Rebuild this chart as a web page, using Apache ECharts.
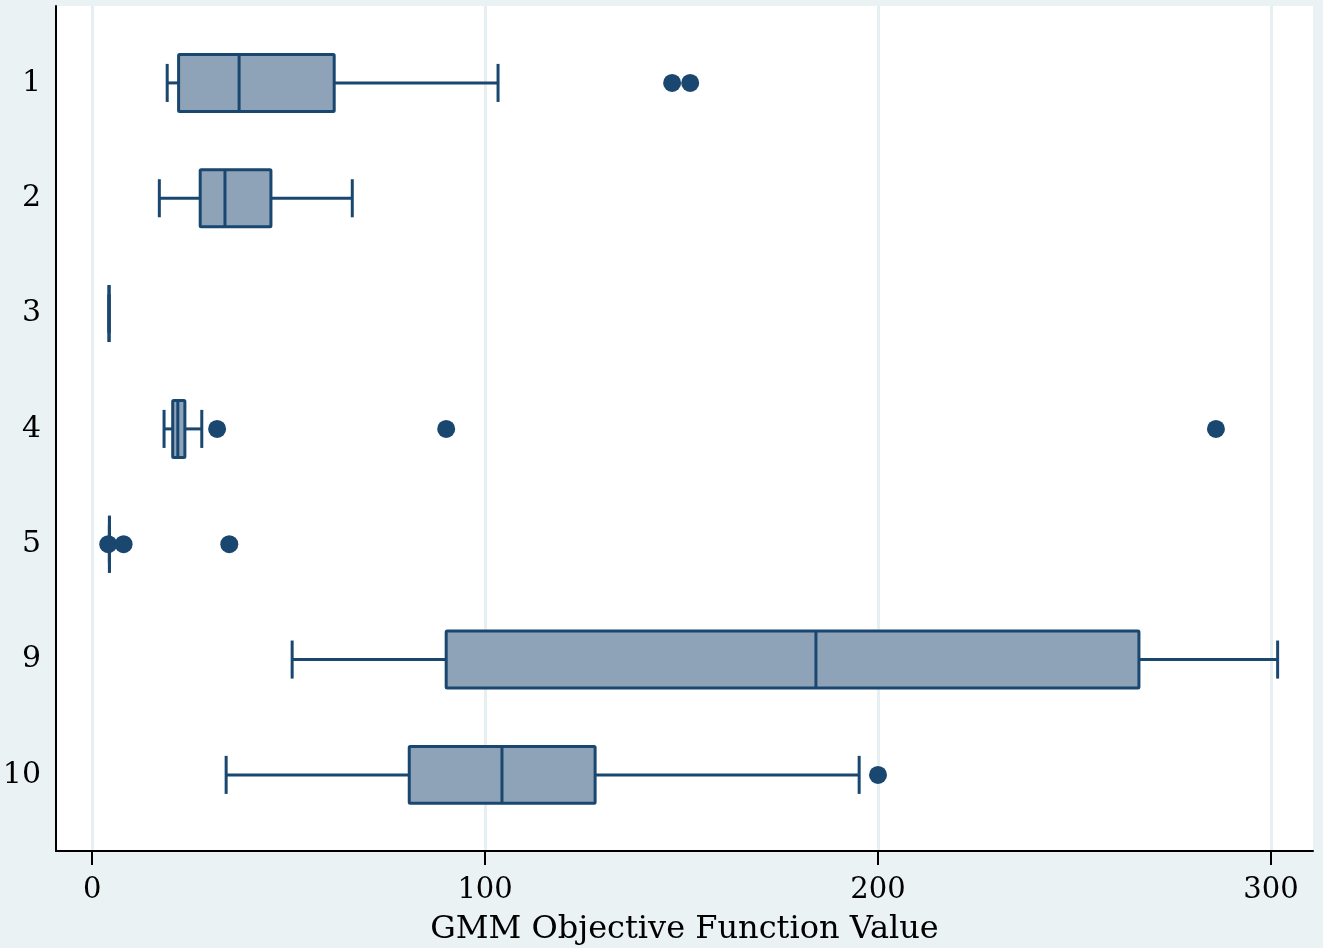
<!DOCTYPE html>
<html>
<head>
<meta charset="utf-8">
<script src="https://cdn.jsdelivr.net/npm/echarts@6/dist/echarts.min.js"></script>
<style>
html,body{margin:0;padding:0;background:#eaf2f3;}
#chart{width:1323px;height:948px;}
</style>
</head>
<body>
<div id="chart"></div>
<script>
// Group labels (top to bottom)
const categories = ['1', '2', '3', '4', '5', '9', '10'];
// Box statistics per group: [lower whisker, Q1, median, Q3, upper whisker]
const boxStats = [
  [19.1, 22.0, 37.4, 61.6, 103.3],
  [17.1, 27.5, 33.8, 45.5, 66.2],
  [4.3, 4.3, 4.3, 4.3, 4.3],
  [18.3, 20.5, 21.8, 23.6, 27.9],
  [4.4, 4.4, 4.4, 4.4, 4.4],
  [50.9, 90.1, 184.2, 266.4, 301.7],
  [34.1, 80.7, 104.3, 128.0, 195.2]
];
// Outliers: [group label, value]
const outliers = [
  ['1', 147.6], ['1', 152.2],
  ['4', 31.8], ['4', 90.1], ['4', 286.0],
  ['5', 4.1], ['5', 8.0], ['5', 34.9],
  ['10', 200.0]
];
const xTicks = [0, 100, 200, 300];
const axisTitle = 'GMM Objective Function Value';

const NAVY = '#1a476f';
const FILL = '#8fa3b8';
const FONT = 'DejaVu Serif';

const boxData = boxStats.map((s, i) => [i + 1].concat(s));
const outData = outliers.map(o => [o[1], categories.indexOf(o[0]) + 1]);

function renderBox(params, api) {
  const pos = api.value(0);
  const lo = api.value(1), q1 = api.value(2), med = api.value(3), q3 = api.value(4), hi = api.value(5);
  const unit = api.size([0, 1])[1];
  const bh = unit * 0.247;
  const ch = unit * 0.165;
  const pLo = api.coord([lo, pos]);
  const pQ1 = api.coord([q1, pos]);
  const pMed = api.coord([med, pos]);
  const pQ3 = api.coord([q3, pos]);
  const pHi = api.coord([hi, pos]);
  const y = pMed[1];
  const ls = {stroke: NAVY, lineWidth: 3, fill: null};
  const children = [];
  children.push({type: 'line', shape: {x1: pLo[0], y1: y, x2: pQ1[0], y2: y}, style: ls});
  children.push({type: 'line', shape: {x1: pQ3[0], y1: y, x2: pHi[0], y2: y}, style: ls});
  children.push({type: 'line', shape: {x1: pLo[0], y1: y - ch, x2: pLo[0], y2: y + ch}, style: ls});
  children.push({type: 'line', shape: {x1: pHi[0], y1: y - ch, x2: pHi[0], y2: y + ch}, style: ls});
  children.push({type: 'rect', shape: {x: pQ1[0], y: y - bh, width: pQ3[0] - pQ1[0], height: 2 * bh, r: 1},
    style: {fill: FILL, stroke: NAVY, lineWidth: 3}});
  children.push({type: 'line', shape: {x1: pMed[0], y1: y - bh, x2: pMed[0], y2: y + bh}, style: ls});
  return {type: 'group', children: children};
}

const chart = echarts.init(document.getElementById('chart'));
chart.setOption({
  backgroundColor: '#eaf2f3',
  animation: false,
  grid: {left: 56, right: 10, top: 6, bottom: 97, show: true, backgroundColor: '#ffffff', borderWidth: 0,
    containLabel: false, outerBoundsMode: 'none'},
  xAxis: {
    type: 'value', min: -9.2, max: 310.7,
    name: axisTitle, nameLocation: 'middle', nameGap: 63,
    nameTextStyle: {fontFamily: FONT, fontSize: 32, color: '#000'},
    axisLine: {show: true, onZero: false, lineStyle: {color: '#000', width: 2}},
    axisTick: {show: true, length: 14, customValues: xTicks, lineStyle: {color: '#000', width: 2}},
    axisLabel: {customValues: xTicks, fontFamily: FONT, fontSize: 29, color: '#000', margin: 25},
    splitLine: {show: true, lineStyle: {color: '#e6eff1', width: 3}}
  },
  yAxis: {
    type: 'value', min: 0.333, max: 7.66, inverse: true,
    axisLine: {show: true, onZero: false, lineStyle: {color: '#000', width: 2}},
    axisTick: {show: false, customValues: [1, 2, 3, 4, 5, 6, 7]},
    axisLabel: {customValues: [1, 2, 3, 4, 5, 6, 7], formatter: v => categories[Math.round(v) - 1],
      fontFamily: FONT, fontSize: 30, color: '#000', margin: 15, padding: [12, 0, 0, 0]},
    splitLine: {show: false}
  },
  series: [
    {type: 'custom', renderItem: renderBox, data: boxData, encode: {x: [1, 2, 3, 4, 5], y: 0}, z: 3},
    {type: 'scatter', data: outData, symbol: 'circle', symbolSize: 18, itemStyle: {color: NAVY, opacity: 1}, z: 4}
  ]
});
</script>
</body>
</html>
